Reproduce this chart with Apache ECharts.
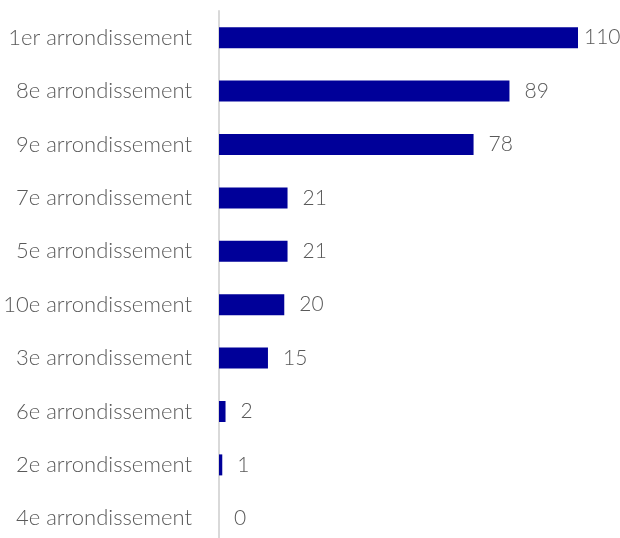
<!DOCTYPE html>
<html><head><meta charset="utf-8">
<script src="https://cdn.jsdelivr.net/npm/echarts@6/dist/echarts.min.js"></script>
<style>html,body{margin:0;padding:0;background:#fff}#c{width:620px;height:538px}</style>
</head><body><div id="c"></div>
<script>
const categories = ["1er arrondissement","8e arrondissement","9e arrondissement","7e arrondissement","5e arrondissement","10e arrondissement","3e arrondissement","6e arrondissement","2e arrondissement","4e arrondissement"];
const values = [110, 89, 78, 21, 21, 20, 15, 2, 1, 0];

const chart = echarts.init(document.getElementById('c'), null, {renderer:'canvas'});
const font = 'Lato, "Open Sans", sans-serif';
chart.setOption({
  animation: false,
  grid: {left: 219, top: 11, width: 359, height: 534, containLabel: false, outerBoundsMode: 'none'},
  xAxis: {type: 'value', min: 0, max: 110, show: false},
  yAxis: {
    type: 'category', data: categories, inverse: true,
    axisLine: {show: true, lineStyle: {color: '#d9d9d9', width: 2}},
    axisTick: {show: false},
    axisLabel: {color: '#595959', fontSize: 22, fontFamily: font, fontWeight: 300, margin: 27}
  },
  series: [{
    type: 'bar', data: values.map((v, i) => ({value: v, label: i === 0 ? {distance: 6} : {}})),
    barWidth: 21,
    itemStyle: {color: '#000099'},
    label: {show: true, position: 'right', distance: 15, color: '#595959', fontSize: 21, fontFamily: font, fontWeight: 300}
  }]
});
</script></body></html>
